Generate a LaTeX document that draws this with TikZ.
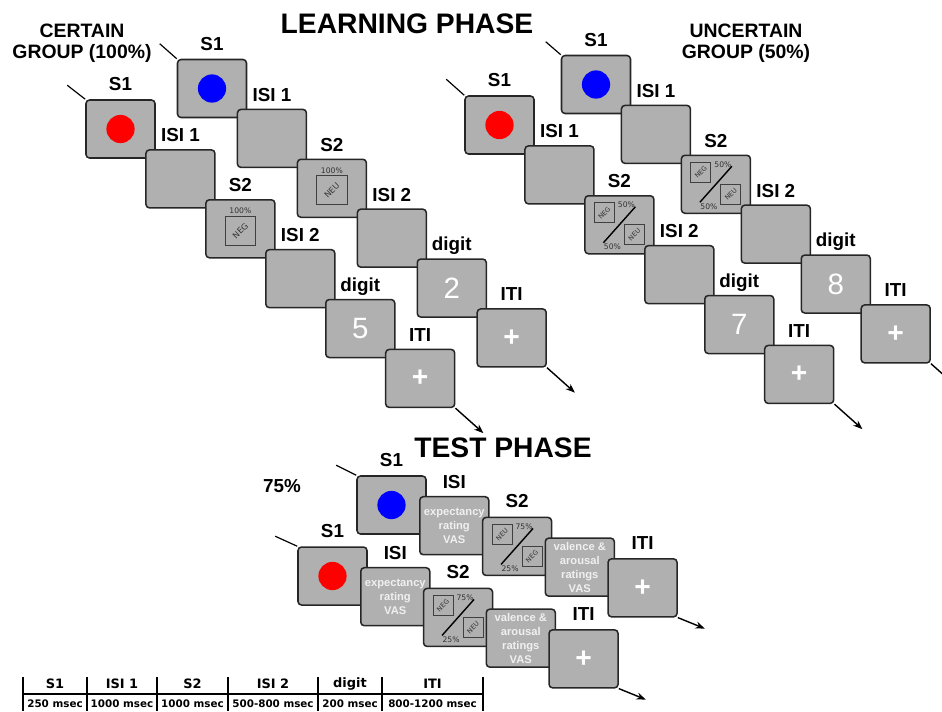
\documentclass[tikz,border=0pt]{standalone}
\usepackage{fontspec}
\setmainfont{Liberation Sans}
\newfontfamily\verdfont{DejaVu Sans}
\usepackage{graphicx}
\usepackage{tikz}
\usetikzlibrary{
    arrows.meta,
    positioning,
    calc
}

% single outcome icon (certain group)
\newcommand{\onecue}[3]{%
  \node[cuebig] (#1_sq) at ($(#1)+(0,2)$) {\rotatebox{45}{#2}};
  \node[pct] (#1_pc) at ($(#1)+(0,-18)$) {#3};
}
% split outcome icon (uncertain group, test phase)
\newcommand{\twocue}[5]{%
  \node[cue] (#1_ul) at ($(#1)+(-15,-12)$) {\rotatebox{45}{#2}};
  \node[cue] (#1_lr) at ($(#1)+(15,10)$) {\rotatebox{45}{#3}};
  \draw[slash] ($(#1)+(-16,18)$) -- ($(#1)+(16,-18)$);
  \node[pct] (#1_pt) at ($(#1)+(7,-20)$) {#4};
  \node[pct] (#1_pb) at ($(#1)+(-7,22)$) {#5};
}

\begin{document}
\begin{tikzpicture}[
  x=0.85pt, y=-0.85pt,
  screen/.style={rectangle, rounded corners=3pt,
    draw=black!85, line width=1.3pt, fill=black!31,
    minimum width=58.65pt, minimum height=49.3pt,
    inner sep=0pt, text=white, align=center},
  lbl/.style={font=\fontsize{16}{18}\selectfont\bfseries,
    inner sep=0pt, text depth=0pt},
  vas/.style={font=\fontsize{9.5}{11.9}\selectfont\bfseries, text=black!6},
  digit/.style={font=\fontsize{25}{25}\selectfont},
  cross/.style={font=\fontsize{24}{24}\selectfont\bfseries},
  dot/.style={circle, minimum size=24pt, inner sep=0pt},
  cue/.style={draw=black!75, line width=0.7pt, minimum size=17pt,
    inner sep=0pt, text=black!80,
    font=\verdfont\fontsize{5.6}{5.6}\selectfont},
  cuebig/.style={cue, minimum width=26pt, minimum height=24.5pt,
    font=\verdfont\fontsize{7}{7}\selectfont},
  pct/.style={inner sep=0pt, text=black!80,
    font=\verdfont\fontsize{6.5}{6.5}\selectfont},
  slash/.style={line width=1.2pt},
  lead/.style={line width=1pt},
  arr/.style={-{Stealth[length=8pt,width=6pt]}, line width=1.2pt},
  title/.style={font=\fontsize{24}{26}\selectfont\bfseries, anchor=base},
  group/.style={font=\fontsize{16.5}{18}\selectfont\bfseries, align=center},
  thead/.style={font=\verdfont\fontsize{11}{11}\selectfont\bfseries},
  tdur/.style={font=\verdfont\fontsize{8.8}{8.8}\selectfont\bfseries},
  tline/.style={line width=0.9pt},
  learn/.style={below right=-8.2pt and -9pt of #1},
  test/.style={below right=-33pt and -6.6pt of #1}
]
\useasboundingbox (0,0) rectangle (942,711);

%% ── Titles ───────────────────────────────────────────────────────────────────
\node[title] (t_learn) at (407,33) {LEARNING PHASE};
\node[title] (t_test)  at (503,457) {TEST PHASE};
\node[group] (g_cert)  at (82,43)  {CERTAIN\\GROUP (100\%)};
\node[group] (g_unc)   at (746,43) {UNCERTAIN\\GROUP (50\%)};
\node[lbl, anchor=base] (g_test) at (282,492) {75\%};

%% ── Certain group: blue trials ───────────────────────────────────────────────
\node[screen] (cb_s1) at (212,88.5) {};
\node[screen, learn=cb_s1]  (cb_isi1) {};
\node[screen, learn=cb_isi1] (cb_s2) {};
\node[screen, learn=cb_s2]  (cb_isi2) {};
\node[screen, digit, learn=cb_isi2] (cb_dig) {2};
\node[screen, cross, learn=cb_dig] (cb_iti) {+};
\node[dot, fill=blue] (cb_dot) at (cb_s1) {};
\onecue{cb_s2}{NEU}{100\%}

\node[lbl, above=7pt of cb_s1]   {S1};
\node[lbl, above=6pt of cb_isi1] {ISI 1};
\node[lbl, above=6pt of cb_s2]   {S2};
\node[lbl, above=6pt of cb_isi2] {ISI 2};
\node[lbl, above=6pt of cb_dig]  {digit};
\node[lbl, above=6pt of cb_iti]  {ITI};

\draw[lead] (cb_s1.north west) -- ++(-17,-15) coordinate (cb_tail);
\draw[arr] (cb_iti.south east) -- ++(28,25) coordinate (cb_end);

%% ── Certain group: red trials ────────────────────────────────────────────────
\node[screen] (cr_s1) at (120.5,129) {};
\node[screen, learn=cr_s1]  (cr_isi1) {};
\node[screen, learn=cr_isi1] (cr_s2) {};
\node[screen, learn=cr_s2]  (cr_isi2) {};
\node[screen, digit, learn=cr_isi2] (cr_dig) {5};
\node[screen, cross, learn=cr_dig] (cr_iti) {+};
\node[dot, fill=red] (cr_dot) at (cr_s1) {};
\onecue{cr_s2}{NEG}{100\%}

\node[lbl, above=7pt of cr_s1]   {S1};
\node[lbl, above=6pt of cr_isi1] {ISI 1};
\node[lbl, above=6pt of cr_s2]   {S2};
\node[lbl, above=6pt of cr_isi2] {ISI 2};
\node[lbl, above=6pt of cr_dig]  {digit};
\node[lbl, above=6pt of cr_iti]  {ITI};

\draw[lead] (cr_s1.north west) -- ++(-18,-14) coordinate (cr_tail);
\draw[arr] (cr_iti.south east) -- ++(28,25) coordinate (cr_end);

%% ── Uncertain group: blue trials ─────────────────────────────────────────────
\node[screen] (ub_s1) at (596,84.5) {};
\node[screen, learn=ub_s1]  (ub_isi1) {};
\node[screen, learn=ub_isi1] (ub_s2) {};
\node[screen, learn=ub_s2]  (ub_isi2) {};
\node[screen, digit, learn=ub_isi2] (ub_dig) {8};
\node[screen, cross, learn=ub_dig] (ub_iti) {+};
\node[dot, fill=blue] (ub_dot) at (ub_s1) {};
\twocue{ub_s2}{NEG}{NEU}{50\%}{50\%}

\node[lbl, above=7pt of ub_s1]   {S1};
\node[lbl, above=6pt of ub_isi1] {ISI 1};
\node[lbl, above=6pt of ub_s2]   {S2};
\node[lbl, above=6pt of ub_isi2] {ISI 2};
\node[lbl, above=6pt of ub_dig]  {digit};
\node[lbl, above=6pt of ub_iti]  {ITI};

\draw[lead] (ub_s1.north west) -- ++(-15,-13) coordinate (ub_tail);
\draw[arr] (ub_iti.south east) -- ++(28,25) coordinate (ub_end);

%% ── Uncertain group: red trials ──────────────────────────────────────────────
\node[screen] (ur_s1) at (499.5,125) {};
\node[screen, learn=ur_s1]  (ur_isi1) {};
\node[screen, learn=ur_isi1] (ur_s2) {};
\node[screen, learn=ur_s2]  (ur_isi2) {};
\node[screen, digit, learn=ur_isi2] (ur_dig) {7};
\node[screen, cross, learn=ur_dig] (ur_iti) {+};
\node[dot, fill=red] (ur_dot) at (ur_s1) {};
\twocue{ur_s2}{NEG}{NEU}{50\%}{50\%}

\node[lbl, above=7pt of ur_s1]   {S1};
\node[lbl, above=6pt of ur_isi1] {ISI 1};
\node[lbl, above=6pt of ur_s2]   {S2};
\node[lbl, above=6pt of ur_isi2] {ISI 2};
\node[lbl, above=6pt of ur_dig]  {digit};
\node[lbl, above=6pt of ur_iti]  {ITI};

\draw[lead] (ur_s1.north west) -- ++(-18,-16) coordinate (ur_tail);
\draw[arr] (ur_iti.south east) -- ++(28,25) coordinate (ur_end);

%% ── Test phase: blue trials ──────────────────────────────────────────────────
\node[screen] (tb_s1) at (391.5,505) {};
\node[screen, vas, test=tb_s1] (tb_isi) {expectancy\\rating\\VAS};
\node[screen, test=tb_isi] (tb_s2) {};
\node[screen, vas, test=tb_s2] (tb_val) {valence \&\\arousal\\ratings\\VAS};
\node[screen, cross, test=tb_val] (tb_iti) {+};
\node[dot, fill=blue] (tb_dot) at (tb_s1) {};
\twocue{tb_s2}{NEU}{NEG}{75\%}{25\%}

\node[lbl, above=7pt of tb_s1]  {S1};
\node[lbl, above=6pt of tb_isi] {ISI};
\node[lbl, above=8pt of tb_s2]  {S2};
\node[lbl, above=7pt of tb_iti] {ITI};

\draw[lead] (tb_s1.north west) -- ++(-20,-10) coordinate (tb_tail);
\draw[arr] (tb_iti.south east) -- ++(27,11) coordinate (tb_end);

%% ── Test phase: red trials ───────────────────────────────────────────────────
\node[screen] (tr_s1) at (332.5,576) {};
\node[screen, vas, test=tr_s1] (tr_isi) {expectancy\\rating\\VAS};
\node[screen, test=tr_isi] (tr_s2) {};
\node[screen, vas, test=tr_s2] (tr_val) {valence \&\\arousal\\ratings\\VAS};
\node[screen, cross, test=tr_val] (tr_iti) {+};
\node[dot, fill=red] (tr_dot) at (tr_s1) {};
\twocue{tr_s2}{NEG}{NEU}{75\%}{25\%}

\node[lbl, above=7pt of tr_s1]  {S1};
\node[lbl, above=6pt of tr_isi] {ISI};
\node[lbl, above=8pt of tr_s2]  {S2};
\node[lbl, above=7pt of tr_iti] {ITI};

\draw[lead] (tr_s1.north west) -- ++(-22,-10) coordinate (tr_tail);
\draw[arr] (tr_iti.south east) -- ++(27,11) coordinate (tr_end);

%% ── Timing table ─────────────────────────────────────────────────────────────
\foreach \xa/\xb/\hd/\dur [count=\i] in {
    23/87/S1/250 msec, 87/157/ISI 1/1000 msec, 157/228/S2/1000 msec,
    228/318/ISI 2/500-800 msec, 318/382/digit/200 msec, 382/483/ITI/800-1200 msec} {
  \node[thead] (th\i) at ({(\xa+\xb)/2},684) {\hd};
  \node[tdur]  (td\i) at ({(\xa+\xb)/2},704) {\dur};
  \draw[tline] (\xa,677) -- (\xa,711);
}
\draw[tline] (483,677) -- (483,711);
\draw[tline] (23,694) -- (483,694);

\end{tikzpicture}
\end{document}
